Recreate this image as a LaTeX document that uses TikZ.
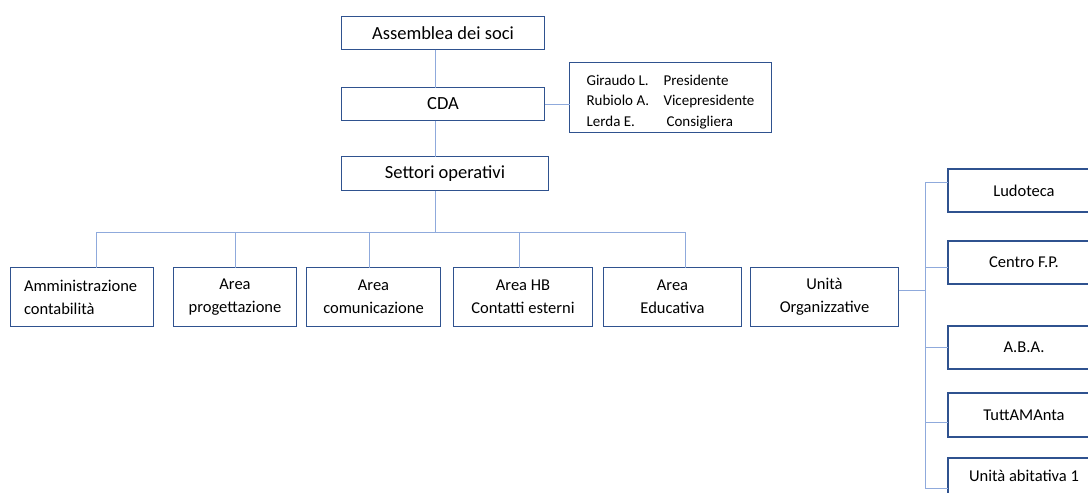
\documentclass[tikz,border=0pt]{standalone}
\usepackage{fontspec}
\setmainfont{Carlito}
\usepackage{xcolor}
\usepackage{tikz}
\usetikzlibrary{positioning,calc}
\definecolor{boxblue}{RGB}{47,82,143}
\definecolor{linkblue}{RGB}{143,170,220}

\begin{document}
\begin{tikzpicture}[x=1pt, y=-1pt,
    box/.style={draw=boxblue, line width=1.6pt, fill=white, align=center, inner sep=2pt, outer sep=0pt},
    topbox/.style={box, minimum width=203pt, minimum height=33pt, font=\fontsize{18.5}{22}\selectfont},
    areabox/.style={box, minimum height=59pt, font=\fontsize{16.5}{23}\selectfont},
    unitbox/.style={box, minimum width=152pt, minimum height=43pt, font=\fontsize{16.5}{20}\selectfont},
    link/.style={draw=linkblue, line width=1pt}]
        \clip (0,0) rectangle (1088,493);

        % top of the chart
        \node[topbox] (ass) at (443,33) {Assemblea dei soci};
        \node[topbox] (cda) at (443,104) {CDA};
        \node[topbox, minimum width=207pt, minimum height=34pt] (sett) at (445,173.5) {Settori operativi};
        \node[box, minimum width=202pt, minimum height=70pt, align=left, font=\fontsize{15}{20.5}\selectfont] (cons) at (670.5,97.5)
            {\rule{0pt}{19pt}\makebox[77pt][l]{Giraudo L.}Presidente\\ \makebox[77pt][l]{Rubiolo A.}Vicepresidente\\ \makebox[80pt][l]{Lerda E.}Consigliera};

        % sectors
        \node[areabox, minimum width=143pt, text width=116pt, align=left] (amm) at (82,297) {Amministrazione\\contabilità};
        \node[areabox, minimum width=123pt, right=20pt of amm] (prog) {Area\\progettazione};
        \node[areabox, minimum width=134pt, right=10pt of prog] (com) {Area\\comunicazione};
        \node[areabox, minimum width=139pt, right=13pt of com] (hb) {Area HB\\Contatti esterni};
        \node[areabox, minimum width=138pt, right=11pt of hb] (edu) {Area\\Educativa};
        \node[areabox, minimum width=148pt, right=9pt of edu] (uo) {Unità\\Organizzative};

        % units
        \node[unitbox] (lud) at (1024,190.5) {Ludoteca};
        \node[unitbox, below=29pt of lud] (cen) {Centro F.P.};
        \node[unitbox, below=42pt of cen] (aba) {A.B.A.};
        \node[unitbox, minimum height=44pt, below=24pt of aba] (tut) {TuttAMAnta};
        \node[unitbox, minimum height=44pt, text depth=9pt, below=21pt of tut] (uab) {Unità abitativa 1};

        \coordinate (spine) at (435,232);
        \coordinate (rbus) at (925,290);

        \draw[link] (ass.south -| spine) -- (cda.north -| spine);
        \draw[link] (cda.south -| spine) -- (sett.north -| spine);
        \draw[link] (sett.south -| spine) -- (spine);
        \draw[link] (cda.east) -- (cons.west |- cda.east);

        \draw[link] (96,232) -- (685,232);
        \foreach \n/\x in {amm/96, prog/235, com/369, hb/519, edu/685}
            \draw[link] (\n.north -| \x,0) -- (\x,232);

        \draw[link] (uo.east |- rbus) -- (rbus);
        \draw[link] (925,182) -- (925,488);
        \foreach \n/\y in {lud/182, cen/267, aba/347, tut/422, uab/488}
            \draw[link] (925,\y) -- (\n.west |- 0,\y);
    \end{tikzpicture}
\end{document}
